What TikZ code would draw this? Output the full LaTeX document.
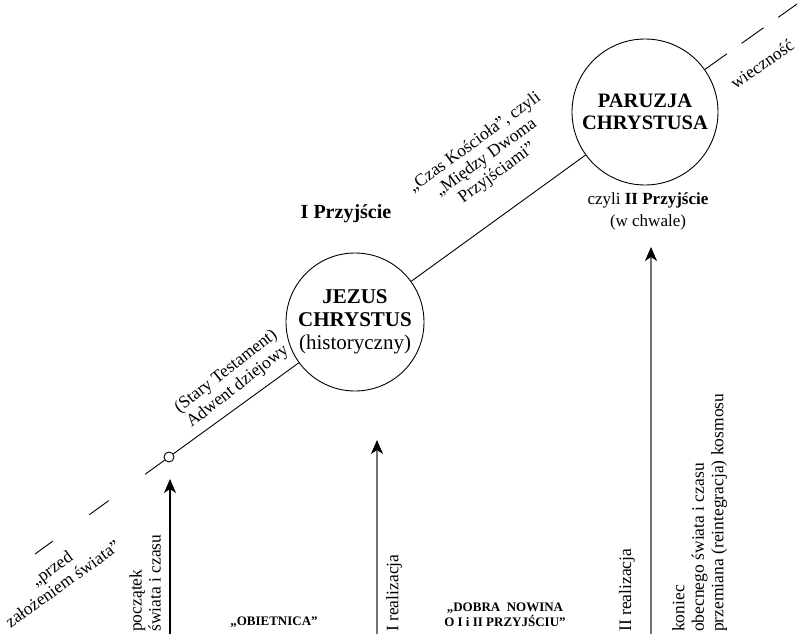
\documentclass[tikz,border=0pt]{standalone}
\usepackage{fontspec}
\setmainfont{Liberation Serif}
\usepackage{xcolor}
\usepackage{tikz}
\usetikzlibrary{arrows.meta}
\usetikzlibrary{positioning}
\definecolor{lgray}{gray}{0.45}
\tikzset{
    bignode/.style = {circle, draw=black, line width=0.9pt, align=center, fill=white, inner sep=0pt},
    dotnode/.style = {circle, draw=black, line width=0.9pt, fill=white, inner sep=0pt, minimum size=10pt},
    labn/.style = {inner sep=0pt, align=center, font=\fontsize{17.5}{19}\selectfont},
    labb/.style = {inner sep=0pt, align=center, font=\fontsize{13}{14.5}\selectfont\bfseries},
    labt/.style = {inner sep=0pt, align=center, font=\fontsize{20}{22}\selectfont\bfseries},
}

\begin{document}
\begin{tikzpicture}[x=1pt, y=-1pt]
\tikzset{
    edgel/.style = {-, line width=0.9pt},
    edged/.style = {-, line width=0.9pt, dash pattern=on 24pt off 45pt},
    edgedr/.style = {-, line width=0.9pt, dash pattern=on 27pt off 18pt},
    arrowb/.style = {-{Stealth[length=14pt,width=12pt,inset=4pt,color=black]}, line width=1.1pt, draw=black},
    arrowg/.style = {arrowb, draw=lgray},
}
\useasboundingbox (0,0) rectangle (798,634);
%
\node[dotnode] at (169,457) (dot) {};
\node[bignode, minimum size=138pt, font=\fontsize{21}{23}\selectfont] at (355,322) (jezus)
    {\textbf{JEZUS}\\\textbf{CHRYSTUS}\\(historyczny)};
\node[bignode, minimum size=146pt, font=\fontsize{20.5}{22.5}\selectfont\bfseries] at (645,112) (paruzja)
    {PARUZJA\\CHRYSTUSA};
\coordinate (lend) at (35,554);
\coordinate (rend) at (797,4);
%
\draw[edged] (dot) -- (lend);
\draw[edgel] (dot) -- (jezus);
\draw[edgel] (jezus) -- (paruzja);
\draw[edgedr] (paruzja) -- (rend);
%
\coordinate (b1) at (170,634);
\coordinate (t1) at (170,479);
\coordinate (b2) at (377,634);
\coordinate (t2) at (377,440);
\coordinate (b3) at (651,634);
\coordinate (t3) at (651,247);
\draw[arrowb] (b1) -- (t1);
\draw[arrowg] (b2) -- (t2);
\draw[arrowg] (b3) -- (t3);
%
\node[labn, rotate=35.6] at (57,576) (przed) {„przed\\założeniem świata”};
\node[labn, rotate=38] at (232,379) (stary) {(Stary Testament)\\Adwent dziejowy};
\node[labn, rotate=36] at (486,158) (czas) {„Czas Kościoła”, czyli\\„Między Dwoma\\Przyjściami”};
\node[labn, rotate=35] at (762,64) (wiek) {wieczność};
\node[labt] at (346,214) (prz1) {I Przyjście};
\node[labn, font=\fontsize{17}{22}\selectfont] at (648,211) (prz2) {czyli \textbf{II Przyjście}\\(w chwale)};
%
\node[labn, align=left, rotate=90, anchor=south west] at (161,632) (poczatek) {początek\\świata i czasu};
\node[labn, rotate=90, anchor=north west] at (386,632) (real1) {I realizacja};
\node[labn, rotate=90, anchor=south west] at (635,632) (real2) {II realizacja};
\node[labn, align=left, rotate=90, anchor=north west, font=\fontsize{17.5}{19.5}\selectfont] at (672,632) (koniec)
    {koniec\\obecnego świata i czasu\\przemiana (reintegracja) kosmosu};
%
\node[labb] at (274,622) (obiet) {„OBIETNICA”};
\node[labb] at (505,615) (dobra) {„DOBRA\ \ NOWINA\\O I i II PRZYJŚCIU”};
\end{tikzpicture}
\end{document}
